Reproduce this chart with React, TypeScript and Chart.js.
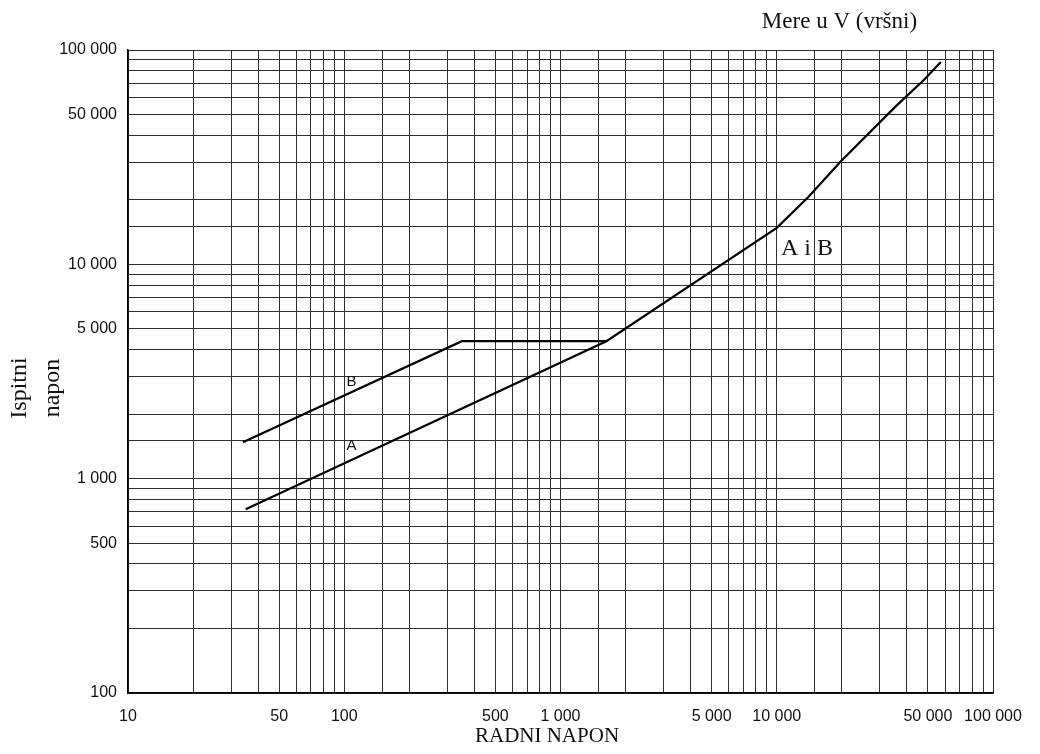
import React, { useEffect, useRef } from "react";
import { Chart, registerables } from "chart.js";

Chart.register(...registerables);

// Axis tick labels (values that carry a printed label)
const xTickLabels = [10, 50, 100, 500, 1000, 5000, 10000, 50000, 100000];
const yTickLabels = [100, 500, 1000, 5000, 10000, 50000, 100000];

// Curve A (continues as "A i B" above the junction)
const curveAX = [35, 1630, 10000, 14000, 19700, 35100, 48000, 57400];
const curveAY = [720, 4380, 14800, 20600, 30100, 54000, 72700, 88000];

// Curve B
const curveBX = [34, 350, 1630];
const curveBY = [1480, 4380, 4380];

// Curve annotations (data coordinates)
const labelB = { text: "B", x: 108, y: 2840 };
const labelA = { text: "A", x: 108, y: 1415 };
const labelAB = { text: "A i B", x: 10450, y: 11000 };
const unitNote = { text: "Mere u V (vršni)", x: 19500 };

const fmt = (v: number) =>
  Math.round(v).toString().replace(/\B(?=(\d{3})+(?!\d))/g, " ");

const pick = (list: number[], value: number) => {
  const hit = list.find((v) => Math.abs(v - value) / v < 1e-6);
  return hit !== undefined ? fmt(hit) : "";
};

const textPlugin = {
  id: "texts",
  afterDraw(chart: any) {
    const { ctx, scales } = chart;
    const xs = scales.x;
    const ys = scales.y;
    ctx.save();
    ctx.fillStyle = "#111";
    // curve letters
    ctx.font = "15px 'Liberation Sans', Arial, sans-serif";
    ctx.textAlign = "center";
    ctx.textBaseline = "middle";
    ctx.fillText(labelB.text, xs.getPixelForValue(labelB.x), ys.getPixelForValue(labelB.y));
    ctx.fillText(labelA.text, xs.getPixelForValue(labelA.x), ys.getPixelForValue(labelA.y));
    // A i B
    ctx.font = "24px 'Liberation Serif', 'Times New Roman', serif";
    ctx.textAlign = "left";
    ctx.textBaseline = "alphabetic";
    ctx.fillText(labelAB.text, xs.getPixelForValue(labelAB.x), ys.getPixelForValue(labelAB.y));
    // unit note
    ctx.font = "23px 'Liberation Serif', 'Times New Roman', serif";
    ctx.textAlign = "center";
    ctx.fillText(unitNote.text, xs.getPixelForValue(unitNote.x), 28);
    // x axis title
    ctx.font = "21px 'Liberation Serif', 'Times New Roman', serif";
    ctx.textBaseline = "middle";
    ctx.fillText("RADNI NAPON", 547, 736);
    // y axis title
    ctx.font = "24px 'Liberation Serif', 'Times New Roman', serif";
    ctx.translate(20, 388);
    ctx.rotate(-Math.PI / 2);
    ctx.fillText("Ispitni", 0, 0);
    ctx.fillText("napon", 0, 33);
    ctx.restore();
  },
};

export default function App() {
  const ref = useRef<HTMLCanvasElement | null>(null);

  useEffect(() => {
    if (!ref.current) return;
    const tickFont = { family: "'Liberation Sans', Arial, sans-serif", size: 16 };
    const grid = { color: "#2e2e2e", lineWidth: 1, drawTicks: false };
    const chart = new Chart(ref.current, {
      type: "line",
      data: {
        datasets: [
          {
            label: "A",
            data: curveAX.map((x, i) => ({ x, y: curveAY[i] })),
            borderColor: "#000",
            borderWidth: 2.2,
            pointRadius: 0,
            tension: 0,
          },
          {
            label: "B",
            data: curveBX.map((x, i) => ({ x, y: curveBY[i] })),
            borderColor: "#000",
            borderWidth: 2.2,
            pointRadius: 0,
            tension: 0,
          },
        ],
      },
      options: {
        animation: false,
        responsive: true,
        maintainAspectRatio: false,
        layout: { padding: { left: 0, top: 50, right: 47, bottom: 0 } },
        plugins: {
          legend: { display: false },
          tooltip: { enabled: false },
          title: { display: false },
        },
        scales: {
          x: {
            type: "logarithmic",
            min: 10,
            max: 100000,
            grid,
            border: { display: true, color: "#000", width: 1.5 },
            ticks: {
              autoSkip: false,
              maxRotation: 0,
              minRotation: 0,
              padding: 14,
              color: "#111",
              font: tickFont,
              callback: (v: any) => pick(xTickLabels, Number(v)),
            },
            afterFit: (s: any) => {
              s.height = 61;
            },
          },
          y: {
            type: "logarithmic",
            min: 100,
            max: 100000,
            grid,
            border: { display: true, color: "#000", width: 1.5 },
            ticks: {
              autoSkip: false,
              padding: 11,
              color: "#111",
              font: tickFont,
              callback: (v: any) => pick(yTickLabels, Number(v)),
            },
            afterFit: (s: any) => {
              s.width = 128;
            },
          },
        },
      } as any,
      plugins: [textPlugin],
    });
    return () => chart.destroy();
  }, []);

  return (
    <div
      style={{
        position: "absolute",
        left: 0,
        top: 0,
        width: 1040,
        height: 754,
        background: "#fff",
      }}
    >
      <canvas ref={ref} />
    </div>
  );
}
